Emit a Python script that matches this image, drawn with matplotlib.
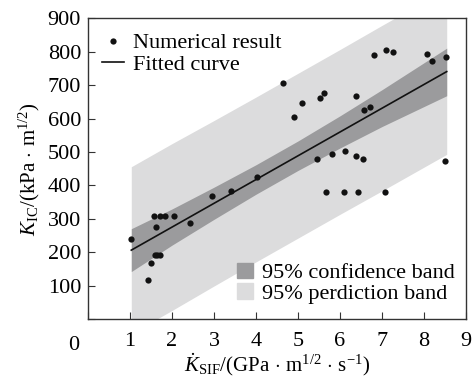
import numpy as np
import matplotlib
matplotlib.use('Agg')
import matplotlib.pyplot as plt
from matplotlib.patches import Patch
from matplotlib.lines import Line2D

plt.rcParams['font.family'] = ['Liberation Serif', 'DejaVu Serif']
plt.rcParams['mathtext.fontset'] = 'custom'
plt.rcParams['mathtext.rm'] = 'Liberation Serif'
plt.rcParams['mathtext.it'] = 'Liberation Serif:italic'
plt.rcParams['font.size'] = 16

# numerical results
k_rate = [1.03, 1.42, 1.50, 1.56, 1.60, 1.63, 1.65, 1.71, 1.72, 1.84, 2.05, 2.42,
          2.94, 3.40, 4.03, 4.65, 4.91, 5.09, 5.45, 5.52, 5.63, 5.67, 5.82, 6.09,
          6.11, 6.39, 6.39, 6.42, 6.54, 6.57, 6.72, 6.82, 7.06, 7.09, 7.25, 8.08,
          8.20, 8.49, 8.53]
k_ic = [239, 117, 168, 308, 192, 276, 193, 192, 308, 310, 309, 289,
        368, 384, 425, 707, 604, 645, 478, 661, 676, 381, 494, 380,
        502, 666, 488, 381, 479, 626, 633, 790, 380, 803, 800, 793,
        771, 474, 784]

# fitted line
fit_x = [1.03, 8.54]
fit_y = [207, 740]

# bands (read at a few x positions)
band_x = [1.03, 2.0, 3.0, 4.0, 5.0, 6.0, 7.0, 8.54]
conf_lo = [143, 222, 299, 374, 445, 512, 576, 668]
conf_hi = [271, 330, 395, 462, 533, 608, 686, 810]
pred_lo = [-42, 27, 100, 172, 243, 314, 384, 493]
pred_hi = [456, 525, 594, 664, 735, 806, 878, 987]

fig = plt.figure(figsize=(4.74, 3.79), dpi=100)
ax = fig.add_axes([0.1857, 0.157, 0.7975, 0.7955])

ax.fill_between(band_x, pred_lo, pred_hi, color='#dcdcdd', lw=0)
ax.fill_between(band_x, conf_lo, conf_hi, color='#9b9b9d', lw=0)
ax.plot(fit_x, fit_y, color='#111111', lw=1.2)
ax.plot(k_rate, k_ic, 'o', color='#111111', ms=4.5, mew=0)

ax.set_xlim(0, 9)
ax.set_ylim(0, 900)
ax.set_xticks(range(0, 10))
ax.set_xticklabels([''] + [str(i) for i in range(1, 10)])
ax.set_yticks(range(0, 1000, 100))
ax.set_yticklabels([''] + [str(i) for i in range(100, 1000, 100)])
ax.tick_params(direction='in', length=5, width=0.8, color='#333333')
ax.tick_params(axis='x', pad=9)
ax.tick_params(axis='y', pad=5)
for s in ax.spines.values():
    s.set_color('#333333')
    s.set_linewidth(1.0)
ax.text(-0.037, -0.085, '0', transform=ax.transAxes, ha='center', va='center')

ax.set_xlabel(r'$\dot{\mathit{K}}_{\mathrm{SIF}}$/(GPa$\,\cdot\,$m$^{1/2}$$\,\cdot\,$s$^{-1}$)',
              fontsize=15, labelpad=0)
ax.set_ylabel(r'$\mathit{K}_{\mathrm{IC}}$/(kPa$\,\cdot\,$m$^{1/2}$)', fontsize=15, labelpad=4)

h1 = [Line2D([], [], marker='o', ls='none', color='#111111', ms=4.5, mew=0),
      Line2D([], [], color='#111111', lw=1.2)]
leg1 = ax.legend(h1, ['Numerical result', 'Fitted curve'], loc='upper left',
                 bbox_to_anchor=(-0.01, 1.01), frameon=False, handlelength=1.0,
                 handletextpad=0.4, labelspacing=0.05, borderpad=0.3)
ax.add_artist(leg1)
h2 = [Patch(color='#9b9b9d'), Patch(color='#dcdcdd')]
ax.legend(h2, ['95% confidence band', '95% perdiction band'], loc='lower right',
          bbox_to_anchor=(1.01, 0.0), frameon=False, handlelength=0.7, handleheight=0.7,
          handletextpad=0.4, labelspacing=0.0, borderpad=0.2)

fig.savefig('out.png', dpi=100)
